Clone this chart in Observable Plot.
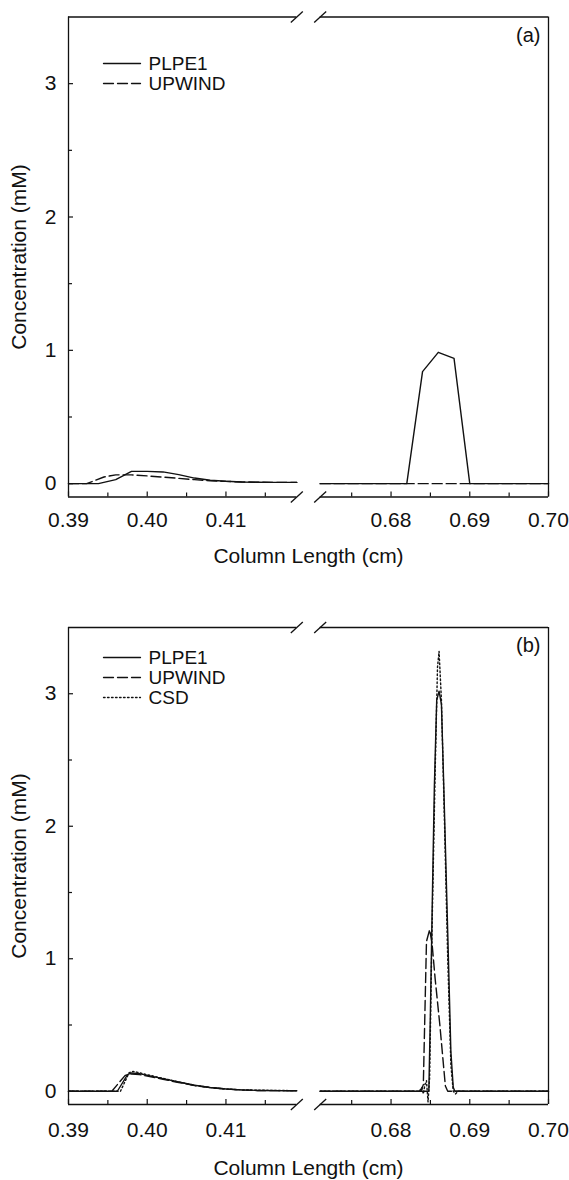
<!DOCTYPE html>
<html><head><meta charset="utf-8">
<script src="https://cdn.jsdelivr.net/npm/d3@7"></script>
<script src="https://cdn.jsdelivr.net/npm/@observablehq/plot@0.6"></script>
<style>
body{margin:0;background:#fff;}
#chart{width:569px;}
#chart svg{display:block;}
</style>
</head><body><div id="chart"></div>
<script>
// ---------- data ----------
const xTickValues = [0.39, 0.40, 0.41, 0.68, 0.69, 0.70];
const xMinorTicks = [0.395, 0.405, 0.415, 0.675, 0.685, 0.695];
const yTickValues = [0, 1, 2, 3];
const yMinorTicks = [0.5, 1.5, 2.5];
const xSegments = [[0.39, 0.419], [0.671, 0.70]];
const seriesNames = ["PLPE1", "UPWIND", "CSD"];
const panelLetters = ["(a)", "(b)"];

// panel (a)
const aPLPE1Left = [[0.39,0],[0.3938,0],[0.396,0.03],[0.398,0.092],[0.400,0.092],[0.402,0.088],[0.404,0.068],[0.406,0.042],[0.408,0.026],[0.410,0.018],[0.412,0.013],[0.414,0.011],[0.416,0.01],[0.419,0.01]];
const aPLPE1Right = [[0.671,0],[0.682,0],[0.684,0.84],[0.686,0.985],[0.688,0.94],[0.690,0],[0.70,0]];
const aUPWINDLeft = [[0.39,0],[0.3923,0],[0.3945,0.05],[0.396,0.066],[0.398,0.066],[0.400,0.058],[0.402,0.049],[0.404,0.04],[0.406,0.03],[0.408,0.022],[0.410,0.017],[0.412,0.013],[0.414,0.011],[0.416,0.01],[0.419,0.01]];
const aUPWINDRight = [[0.671,0],[0.70,0]];

// panel (b)
const bPLPE1Left = [[0.39,0],[0.3962,0],[0.3975,0.125],[0.398,0.138],[0.399,0.133],[0.400,0.12],[0.402,0.095],[0.404,0.07],[0.406,0.045],[0.408,0.028],[0.410,0.017],[0.412,0.01],[0.414,0.006],[0.419,0.004]];
const bPLPE1Right = [[0.671,0],[0.6848,0],[0.6850,0.6],[0.6852,1.3],[0.6855,2.3],[0.6858,2.95],[0.6861,3.02],[0.6864,2.92],[0.6867,2.3],[0.6872,1.2],[0.6876,0.3],[0.6879,0.03],[0.6881,0],[0.70,0]];
const bUPWINDLeft = [[0.39,0],[0.3955,0],[0.3972,0.12],[0.398,0.13],[0.399,0.126],[0.400,0.115],[0.402,0.09],[0.404,0.066],[0.406,0.043],[0.408,0.027],[0.410,0.017],[0.412,0.01],[0.414,0.006],[0.419,0.004]];
const bUPWINDRight = [[0.671,0],[0.6838,0],[0.6841,0.05],[0.6845,1.13],[0.6849,1.22],[0.6852,1.12],[0.6856,0.85],[0.6862,0.5],[0.6869,0.04],[0.6872,0],[0.70,0]];
const bCSDLeft = [[0.39,0],[0.3966,0],[0.3977,0.14],[0.3982,0.15],[0.399,0.14],[0.400,0.125],[0.402,0.097],[0.404,0.07],[0.406,0.045],[0.408,0.028],[0.410,0.017],[0.412,0.01],[0.419,0.004]];
const bCSDRight = [[0.671,0],[0.6836,0],[0.6839,0.03],[0.6841,-0.02],[0.6843,0.05],[0.6845,0.08],[0.6847,-0.08],[0.6849,0.1],[0.6852,1.2],[0.6856,2.4],[0.6859,3.2],[0.6861,3.32],[0.6864,2.95],[0.6868,2.0],[0.6872,1.0],[0.6876,0.2],[0.6879,0],[0.6882,-0.02],[0.6885,0],[0.70,0]];

// ---------- layout ----------
const W = 569;
const left = 68, right = 548;
const yDomain = [-0.1, 3.5];
const ink = "#111";
const font = "'Liberation Sans', Arial, Helvetica, sans-serif";
const dashes = {PLPE1: null, UPWIND: "10,4", CSD: "1.6,2.4"};

// broken axis: the two segments are joined with a small gap on a virtual continuous axis
const gap = 0.00297;
const brk = (x) => x <= xSegments[0][1] ? x : x - xSegments[1][0] + xSegments[0][1] + gap;
const xVDomain = [brk(xSegments[0][0]), brk(xSegments[1][1])];
const xPix = d3.scaleLinear().domain(xVDomain).range([left, right]);

function rows(name, parts) {
  const out = [];
  parts.forEach((pts, i) => pts.forEach(([x, y]) => out.push({series: name, seg: name + i, x, y})));
  return out;
}

function panel({letter, series, height, plotTop, plotBottom, legendRows, tickDy, titleDy}) {
  const yPix = d3.scaleLinear().domain(yDomain).range([plotBottom, plotTop]);
  const yLen = (px) => yPix.invert(plotBottom - px) - yDomain[0];
  const xLen = (px) => xPix.invert(left + px) - xVDomain[0];
  const marks = [];
  // frame
  marks.push(Plot.ruleY(xSegments, {y: yDomain[0], x1: d => brk(d[0]), x2: d => brk(d[1]), stroke: ink, strokeWidth: 1.3}));
  marks.push(Plot.ruleY(xSegments, {y: yDomain[1], x1: d => brk(d[0]), x2: d => brk(d[1]), stroke: ink, strokeWidth: 1.3}));
  marks.push(Plot.ruleX(xVDomain, {x: d => d, y1: yDomain[0], y2: yDomain[1], stroke: ink, strokeWidth: 1.3}));
  // break marks
  const bm = [];
  for (const b of [xSegments[0][1], xSegments[1][0]]) for (const yv of yDomain) {
    const px = xPix(brk(b)), py = yPix(yv);
    bm.push({x1: xPix.invert(px - 6), y1: yPix.invert(py + 5.5), x2: xPix.invert(px + 6), y2: yPix.invert(py - 5.5)});
  }
  marks.push(Plot.link(bm, {x1: "x1", y1: "y1", x2: "x2", y2: "y2", stroke: ink, strokeWidth: 1.3}));
  // ticks (inward)
  marks.push(Plot.ruleX(xTickValues, {x: d => brk(d), y1: yDomain[0], y2: yDomain[0] + yLen(5), stroke: ink, strokeWidth: 1.2}));
  marks.push(Plot.ruleX(xMinorTicks, {x: d => brk(d), y1: yDomain[0], y2: yDomain[0] + yLen(4), stroke: ink, strokeWidth: 1.2}));
  marks.push(Plot.ruleY(yTickValues, {y: d => d, x1: xVDomain[0], x2: xVDomain[0] + xLen(5), stroke: ink, strokeWidth: 1.2}));
  marks.push(Plot.ruleY(yMinorTicks, {y: d => d, x1: xVDomain[0], x2: xVDomain[0] + xLen(4), stroke: ink, strokeWidth: 1.2}));
  // tick labels
  marks.push(Plot.text(xTickValues, {x: d => brk(d), y: yDomain[0], dy: tickDy, text: d => d.toFixed(2), fontSize: 21, fill: ink, lineAnchor: "middle"}));
  marks.push(Plot.text(yTickValues, {x: xVDomain[0], y: d => d, dx: -12, text: d => String(d), fontSize: 21, fill: ink, textAnchor: "end", lineAnchor: "middle"}));
  // axis titles
  marks.push(Plot.text(["Column Length (cm)"], {frameAnchor: "bottom", dy: titleDy, text: d => d, fontSize: 21, fill: ink, lineAnchor: "middle"}));
  marks.push(Plot.text(["Concentration (mM)"], {frameAnchor: "left", dx: -49, rotate: -90, text: d => d, fontSize: 21, fill: ink, lineAnchor: "middle", textAnchor: "middle"}));
  // panel letter
  marks.push(Plot.text([letter], {frameAnchor: "top-right", dx: -8, dy: 18.5, text: d => d, fontSize: 20, fill: ink, textAnchor: "end", lineAnchor: "middle"}));
  // series
  for (const s of series) {
    marks.push(Plot.line(s.data, {x: d => brk(d.x), y: "y", z: "seg", stroke: ink, strokeWidth: 1.4, strokeDasharray: dashes[s.name]}));
  }
  // legend
  series.forEach((s, i) => {
    const yL = yPix.invert(legendRows[i]);
    marks.push(Plot.line([{x: xPix.invert(103), y: yL}, {x: xPix.invert(140), y: yL}], {x: "x", y: "y", stroke: ink, strokeWidth: 1.3, strokeDasharray: dashes[s.name]}));
    marks.push(Plot.text([s.name], {x: xPix.invert(148), y: yL, text: d => d, fontSize: 19, fill: ink, textAnchor: "start", lineAnchor: "middle"}));
  });
  return Plot.plot({
    width: W, height,
    marginTop: plotTop, marginBottom: height - plotBottom, marginLeft: left, marginRight: W - right,
    x: {domain: xVDomain, axis: null},
    y: {domain: yDomain, axis: null},
    style: {fontFamily: font, background: "#fff", overflow: "visible"},
    marks
  });
}

const seriesA = [
  {name: "PLPE1", data: rows("PLPE1", [aPLPE1Left, aPLPE1Right])},
  {name: "UPWIND", data: rows("UPWIND", [aUPWINDLeft, aUPWINDRight])}
];
const seriesB = [
  {name: "PLPE1", data: rows("PLPE1", [bPLPE1Left, bPLPE1Right])},
  {name: "UPWIND", data: rows("UPWIND", [bUPWINDLeft, bUPWINDRight])},
  {name: "CSD", data: rows("CSD", [bCSDLeft, bCSDRight])}
];

const chart = document.getElementById("chart");
chart.appendChild(panel({letter: panelLetters[0], series: seriesA, height: 610, plotTop: 16.5, plotBottom: 496.5, legendRows: [63, 83], tickDy: 23, titleDy: 59}));
chart.appendChild(panel({letter: panelLetters[1], series: seriesB, height: 570, plotTop: 17, plotBottom: 494, legendRows: [47, 67, 87], tickDy: 25.5, titleDy: 64}));
</script>
</body></html>
